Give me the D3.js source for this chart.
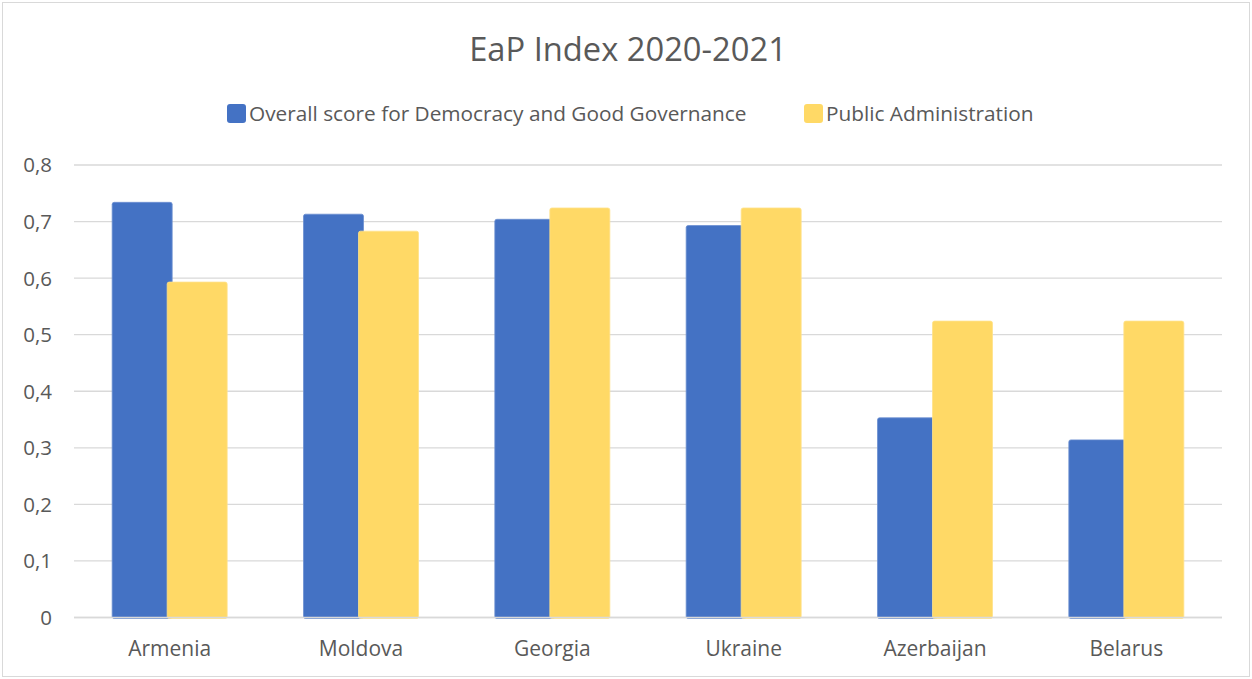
<!DOCTYPE html>
<html>
<head>
<meta charset="utf-8">
<script src="https://cdn.jsdelivr.net/npm/d3@7"></script>
<style>
  body { margin: 0; background: #fff; }
  text { font-family: "Open Sans", Lato, sans-serif; fill: #595959; }
</style>
</head>
<body>
<div class="chart"></div>
<script>
const categories = ["Armenia", "Moldova", "Georgia", "Ukraine", "Azerbaijan", "Belarus"];
const seriesNames = ["Overall score for Democracy and Good Governance", "Public Administration"];
const democracy = [0.734, 0.713, 0.704, 0.693, 0.353, 0.314];
const publicAdmin = [0.593, 0.683, 0.724, 0.724, 0.524, 0.524];
const yTicks = [0, 0.1, 0.2, 0.3, 0.4, 0.5, 0.6, 0.7, 0.8];
const colors = ["#4472C4", "#FFD966"];
const strokes = ["#6C8FD1", "#FFE28A"];

const width = 1252;
const height = 679;

const svg = d3.select('.chart')
  .append('svg')
  .attr('width', width)
  .attr('height', height)

// outer border
svg.append("rect")
  .attr("x", 2.5).attr("y", 2.5)
  .attr("width", width - 5).attr("height", height - 5)
  .attr("fill", "#fff")
  .attr("stroke", "#D9D9D9")

const x = d3.scaleBand().domain(categories).range([74, 1222]);
const xs = d3.scalePoint().domain(seriesNames).range([-57.5, -2.5]);
const y = d3.scaleLinear().domain([0, 0.8]).range([617.5, 165]);

// gridlines
svg.selectAll('.grid')
  .data(yTicks)
  .enter()
  .append("line")
  .attr("x1", 74).attr("x2", 1222)
  .attr("y1", d => y(d)).attr("y2", d => y(d))
  .attr("stroke", "#D9D9D9")
  .attr("stroke-width", 1.3)

// y labels
svg.selectAll('.ylab')
  .data(yTicks)
  .enter()
  .append("text")
  .attr("x", 52)
  .attr("y", d => y(d))
  .attr("dy", "0.36em")
  .attr("text-anchor", "end")
  .attr("font-size", 20.5)
  .text(d => d === 0 ? "0" : d3.format(".1f")(d).replace(".", ","))

// bars
const series = [democracy, publicAdmin];
series.forEach((vals, si) => {
  svg.selectAll('.bar' + si)
    .data(vals)
    .enter()
    .append("rect")
    .attr("x", (d, i) => x(categories[i]) + x.bandwidth() / 2 + xs(seriesNames[si]))
    .attr("y", d => y(d))
    .attr("width", 60)
    .attr("height", d => y(0) - y(d) + 1)
    .attr("rx", 2)
    .attr("fill", colors[si])
    .attr("stroke", strokes[si])
    .attr("stroke-width", 0.8)
});

// axis line
svg.append("line")
  .attr("x1", 74).attr("x2", 1222)
  .attr("y1", y(0)).attr("y2", y(0))
  .attr("stroke", "#D9D9D9")
  .attr("stroke-width", 1.5)

// category labels
svg.selectAll('.xlab')
  .data(categories)
  .enter()
  .append("text")
  .attr("x", d => x(d) + x.bandwidth() / 2)
  .attr("y", 656)
  .attr("text-anchor", "middle")
  .attr("font-size", 21)
  .text(d => d)

// title
svg.append("text")
  .attr("x", 628)
  .attr("y", 61)
  .attr("text-anchor", "middle")
  .attr("font-size", 32.7)
  .text("EaP Index 2020-2021")

// legend
const legendX = [227, 804];
seriesNames.forEach((name, i) => {
  svg.append("rect")
    .attr("x", legendX[i]).attr("y", 104)
    .attr("width", 19).attr("height", 19)
    .attr("rx", 3)
    .attr("fill", colors[i])
  svg.append("text")
    .attr("x", legendX[i] + 22)
    .attr("y", 121)
    .attr("font-size", 20.8)
    .text(name)
});
</script>
</body>
</html>
